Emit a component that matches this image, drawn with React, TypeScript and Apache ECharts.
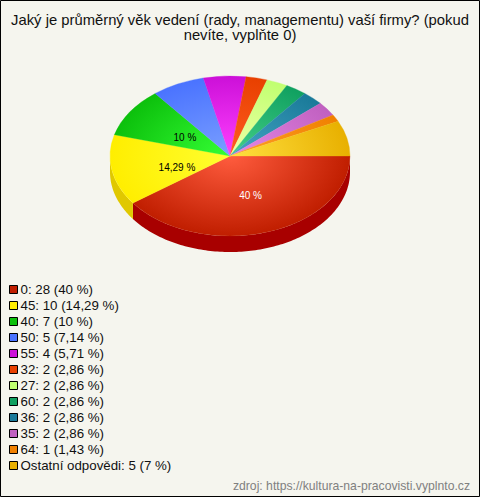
import React, { useEffect, useRef } from "react";
import * as echarts from "echarts";

const titleText = "Jaký je průměrný věk vedení (rady, managementu) vaší firmy? (pokud\nnevíte, vyplňte 0)";
const sourceText = "zdroj: https://kultura-na-pracovisti.vyplnto.cz";
const categories = ["0", "45", "40", "50", "55", "32", "27", "60", "36", "35", "64", "Ostatní odpovědi"];
const values = [28, 10, 7, 5, 4, 2, 2, 2, 2, 2, 1, 5];
const percents = ["40 %", "14,29 %", "10 %", "7,14 %", "5,71 %", "2,86 %", "2,86 %", "2,86 %", "2,86 %", "2,86 %", "1,43 %", "7 %"];
const edgeColors = ["#c01e00", "#ffee00", "#0cc00c", "#4a73ff", "#cc10d8", "#e84000", "#c0ff70", "#10a060", "#1a7a99", "#c060c0", "#f08000", "#e8b000"];
const centerColors = ["#ff5c3e", "#ffff30", "#35ff35", "#7a9fff", "#ff40ff", "#ff5c20", "#f0ffa8", "#45d088", "#45a5c5", "#e688e6", "#ffa028", "#ffe040"];
const wallColors = ["#a80000", "#e0c800", "#0a9a0a", "#3a5acc", "#a00cb0", "#b83000", "#98cc58", "#0c8048", "#14607a", "#984c98", "#c06600", "#b88c00"];
const labelColors = ["#ffffff", "#000000", "#000000", "", "", "", "", "", "", "", "", ""];
const labelNudgeX = [2, 6, 5, 0, 0, 0, 0, 0, 0, 0, 0, 0];
const labelNudgeY = [1, 4, 4, 0, 0, 0, 0, 0, 0, 0, 0, 0];

const CX = 230, CY = 156, RX = 120, RY = 80, DEPTH = 16;
const total = values.reduce((a, b) => a + b, 0);

function arcPoints(a0: number, a1: number, dy: number) {
  const pts: number[][] = [];
  const n = Math.max(2, Math.ceil((a1 - a0) / 0.02));
  for (let i = 0; i <= n; i++) {
    const a = a0 + ((a1 - a0) * i) / n;
    pts.push([CX + RX * Math.cos(a), CY + RY * Math.sin(a) + dy]);
  }
  return pts;
}

function buildSeries() {
  let acc = 0;
  return values.map((_, idx) => {
    const startShare = acc;
    acc += values[idx];
    return {
      type: "custom",
      name: categories[idx],
      coordinateSystem: "none",
      silent: true,
      itemStyle: { color: edgeColors[idx] },
      data: [[values[idx]]],
      renderItem: (_p: any, api: any) => {
        const v = api.value(0) as number;
        const a0 = (startShare / total) * Math.PI * 2;
        const a1 = a0 + (v / total) * Math.PI * 2;
        const children: any[] = [];
        const w0 = Math.max(a0, 0);
        const w1 = Math.min(a1, Math.PI);
        if (w1 > w0) {
          children.push({
            type: "polygon",
            shape: { points: [...arcPoints(w0, w1, 0), ...arcPoints(w0, w1, DEPTH).reverse()] },
            style: { fill: wallColors[idx] },
          });
        }
        const fill = {
          type: "radial", x: 0, y: 0, r: RX, global: true,
          colorStops: [
            { offset: 0, color: centerColors[idx] },
            { offset: 1, color: edgeColors[idx] },
          ],
        };
        children.push({
          type: "sector",
          x: CX, y: CY, scaleY: RY / RX,
          shape: { cx: 0, cy: 0, r0: 0, r: RX, startAngle: a0, endAngle: a1, clockwise: true },
          style: { fill, stroke: fill, lineWidth: 0.4 },
        });
        if (labelColors[idx]) {
          const m = (a0 + a1) / 2;
          children.push({
            type: "text",
            x: CX + RX * 0.5 * Math.cos(m) + labelNudgeX[idx],
            y: CY + RY * 0.5 * Math.sin(m) + labelNudgeY[idx],
            style: {
              text: percents[idx], fill: labelColors[idx],
              font: "10px 'Liberation Sans', Arial, sans-serif",
              align: "center", verticalAlign: "middle",
            },
          });
        }
        return { type: "group", children };
      },
    };
  });
}

export default function App() {
  const ref = useRef<HTMLDivElement>(null);
  useEffect(() => {
    const chart = echarts.init(ref.current!, undefined, { renderer: "svg" });
    chart.setOption({
      animation: false,
      backgroundColor: "#f5f5ee",
      title: [
        {
          text: titleText, left: 240, top: 12, textAlign: "center", padding: 0,
          textStyle: { fontFamily: "'Liberation Sans', Arial, sans-serif", fontSize: 14.8, fontWeight: "normal", color: "#111111", lineHeight: 15 },
        },
        {
          text: sourceText, right: 10, top: 479, padding: 0,
          textStyle: { fontFamily: "'Liberation Sans', Arial, sans-serif", fontSize: 12.2, fontWeight: "normal", color: "#808080", lineHeight: 14 },
        },
      ],
      legend: {
        orient: "vertical", left: 9, top: 283, padding: 0,
        icon: "rect", itemWidth: 8, itemHeight: 8, itemGap: 3,
        selectedMode: false,
        itemStyle: { borderColor: "#000000", borderWidth: 1 },
        textStyle: { fontFamily: "'Liberation Sans', Arial, sans-serif", fontSize: 13.3, color: "#111111", padding: [0, 0, 0, -2], lineHeight: 12, height: 12 },
        data: categories,
        formatter: (name: string) => {
          const i = categories.indexOf(name);
          return `${name}: ${values[i]} (${percents[i]})`;
        },
      },
      graphic: [{
        type: "rect", z: 100, silent: true,
        shape: { x: 0.5, y: 0.5, width: 479, height: 496 },
        style: { fill: "none", stroke: "#000000", lineWidth: 1 },
      }],
      series: buildSeries(),
    });
    return () => chart.dispose();
  }, []);
  return <div ref={ref} style={{ position: "fixed", left: 0, top: 0, width: 480, height: 497 }} />;
}
